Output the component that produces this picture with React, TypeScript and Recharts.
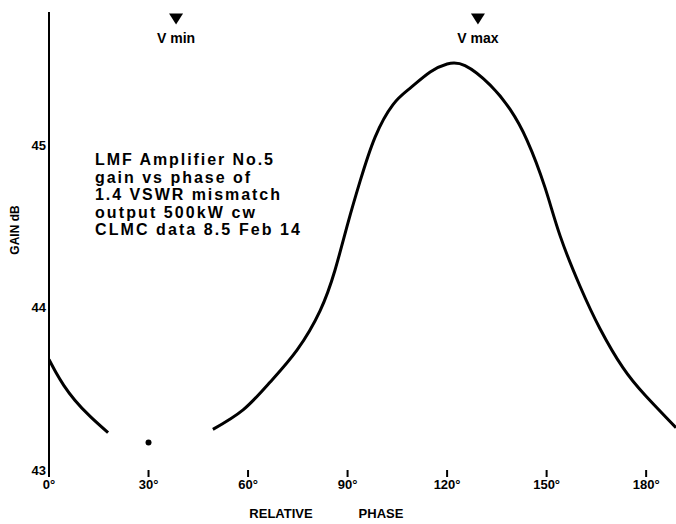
import { ComposedChart, Line, Scatter, XAxis, YAxis, ReferenceDot } from "recharts";

// relative phase (deg) and gain (dB)
const leftPhase = [0, 2.1, 4.5, 7.8, 12.4, 17.8];
const leftGain = [43.68, 43.6, 43.52, 43.43, 43.33, 43.23];

const mainPhase = [49.4, 58.5, 66.6, 74.8, 81.7, 86.2, 90.1, 93.8, 98.3, 103.7, 108.8, 114.9, 120, 125.4, 133, 139, 144.1, 149.5, 154.1, 160.1, 166.1, 173, 179.7, 189];
const mainGain = [43.25, 43.37, 43.54, 43.74, 43.98, 44.23, 44.52, 44.78, 45.05, 45.25, 45.35, 45.45, 45.5, 45.49, 45.37, 45.22, 45.03, 44.74, 44.44, 44.13, 43.87, 43.63, 43.46, 43.26];

const minPointPhase = [30];
const minPointGain = [43.17];

const phaseTicks = [0, 30, 60, 90, 120, 150, 180];
const gainTicks = [43, 44, 45];

const vMinPhase = 38.3;
const vMaxPhase = 129.3;
const markerGain = 45.78;

const noteLines = [
  "LMF  Amplifier  No.5",
  "gain  vs  phase  of",
  "1.4  VSWR  mismatch",
  "output   500kW cw",
  "CLMC  data  8.5 Feb 14",
];
const noteWidths = [178, 155, 185, 160, 205];

const font = "'Liberation Sans', Arial, sans-serif";

const leftData = leftPhase.map((p, i) => ({ phase: p, gain: leftGain[i] }));
const mainData = mainPhase.map((p, i) => ({ phase: p, gain: mainGain[i] }));
const pointData = minPointPhase.map((p, i) => ({ phase: p, gain: minPointGain[i] }));

function Marker({ cx, cy, text }: { cx?: number; cy?: number; text: string }) {
  if (cx == null || cy == null) return null;
  return (
    <g>
      <path d={`M${cx - 7},${cy - 5} L${cx + 7},${cy - 5} L${cx},${cy + 6} Z`} fill="#000" />
      <text x={cx} y={cy + 25} textAnchor="middle" fontFamily={font} fontWeight="bold" fontSize={14} fill="#000">
        {text}
      </text>
    </g>
  );
}

export default function App() {
  return (
    <div style={{ position: "absolute", left: 0, top: 0, width: 676, height: 524, background: "#fff" }}>
      <ComposedChart width={676} height={524} margin={{ top: 12, right: 0, bottom: 0, left: 0 }}>
        <XAxis
          dataKey="phase"
          type="number"
          domain={[0, 189]}
          ticks={phaseTicks}
          interval={0}
          allowDataOverflow
          tickFormatter={(d) => `${d}°`}
          axisLine={false}
          tickLine={{ stroke: "#000", strokeWidth: 2 }}
          tickSize={7}
          tickMargin={3}
          height={54}
          tick={{ fill: "#000", fontSize: 13, fontWeight: "bold", fontFamily: font }}
          label={{
            content: () => (
              <g fontFamily={font} fontWeight="bold" fontSize={13} fill="#000">
                <text x={281} y={518} textAnchor="middle">RELATIVE</text>
                <text x={381} y={518} textAnchor="middle">PHASE</text>
              </g>
            ),
          }}
        />
        <YAxis
          type="number"
          domain={[43, 45.82]}
          ticks={gainTicks}
          interval={0}
          allowDataOverflow
          width={49}
          axisLine={{ stroke: "#000", strokeWidth: 2 }}
          tickLine={false}
          tickSize={2}
          tickMargin={1}
          tick={{ fill: "#000", fontSize: 13, fontWeight: "bold", fontFamily: font }}
          label={{
            content: () => (
              <text
                x={16}
                y={230}
                transform="rotate(-90 16 230)"
                textAnchor="middle"
                dominantBaseline="middle"
                fontFamily={font}
                fontWeight="bold"
                fontSize={12}
                fill="#000"
              >
                GAIN dB
              </text>
            ),
          }}
        />
        <Line data={leftData} dataKey="gain" type="natural" stroke="#000" strokeWidth={3} dot={false} isAnimationActive={false} />
        <Line data={mainData} dataKey="gain" type="natural" stroke="#000" strokeWidth={3} dot={false} isAnimationActive={false} />
        <Scatter data={pointData} dataKey="gain" fill="#000" shape={(p: any) => <circle cx={p.cx} cy={p.cy} r={3} fill="#000" />} isAnimationActive={false} />
        <ReferenceDot x={vMinPhase} y={markerGain} ifOverflow="visible" shape={(p: any) => <Marker cx={p.cx} cy={p.cy} text="V min" />} />
        <ReferenceDot x={vMaxPhase} y={markerGain} ifOverflow="visible" shape={(p: any) => <Marker cx={p.cx} cy={p.cy} text="V max" />} />
      </ComposedChart>
      <svg width={676} height={524} style={{ position: "absolute", left: 0, top: 0, pointerEvents: "none" }}>
        <g fontFamily={font} fontWeight="bold" fontSize={16} fill="#000">
          {noteLines.map((line, i) => (
            <text key={i} x={95} y={165 + i * 17.5} textLength={noteWidths[i]} lengthAdjust="spacing">
              {line}
            </text>
          ))}
        </g>
      </svg>
    </div>
  );
}
